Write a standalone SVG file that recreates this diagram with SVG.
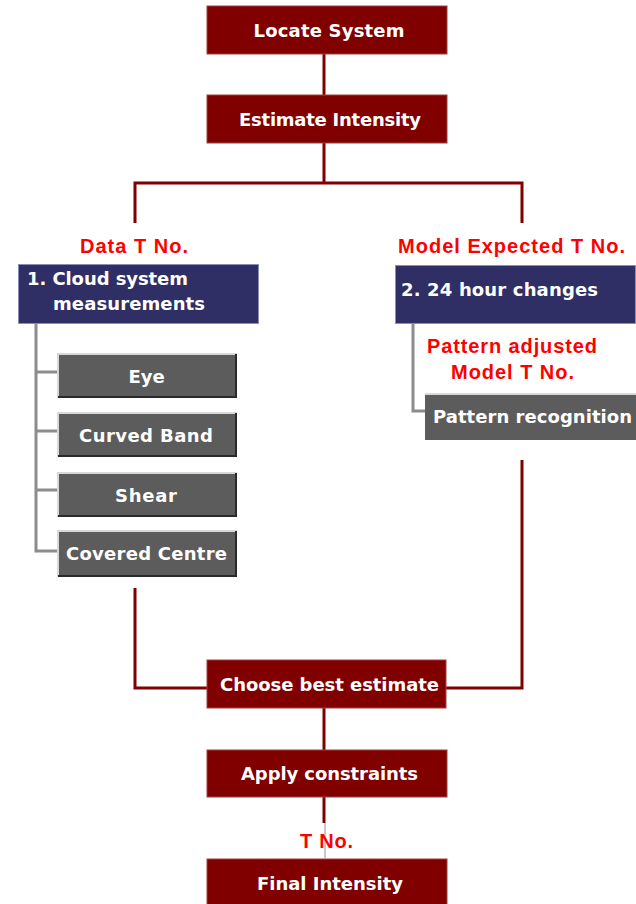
<svg xmlns="http://www.w3.org/2000/svg" width="636" height="904" viewBox="0 0 636 904">
<style>
.red{fill:#800000;stroke:#a04040;stroke-width:1}
.blue{fill:#2f2f66;stroke:#8c8cb8;stroke-width:1}
.gray{fill:#5c5c5c}
.wt{font-family:"DejaVu Sans",sans-serif;font-weight:bold;font-size:18px;fill:#ffffff}
.rt{font-family:"Liberation Sans",Arial,sans-serif;font-weight:bold;font-size:20px;fill:#ff0000;text-anchor:middle}
.c{text-anchor:middle}
.con{fill:none;stroke:#800000;stroke-width:3}
.gcon{fill:none;stroke:#8c8c8c;stroke-width:3}
.hi{stroke:#d8d8d8;stroke-width:2;fill:none}
.sh{stroke:#2a2a2a;stroke-width:2;fill:none}
</style>
<rect width="636" height="904" fill="#ffffff"/>
<g id="connectors">
<path class="con" d="M324 54V95"/>
<path class="con" d="M324 143V183M135 223V183H522V223"/>
<path class="gcon" d="M36 324V551H57M36 372H57M36 431H57M36 490H57"/>
<path class="gcon" d="M413 323V411H425"/>
<path class="con" d="M135 588V688H207M522 460V688H446"/>
<path class="con" d="M324 708V750"/>
<path class="con" d="M324 797V823"/>
<path d="M325 823V858" stroke="#c8c8c8" stroke-width="2" fill="none"/>
</g>
<g id="locate"><rect class="red" x="207" y="6" width="240" height="48"/><text class="wt c" x="329" y="37" textLength="151">Locate System</text></g>
<g id="estimate"><rect class="red" x="207" y="95" width="240" height="48"/><text class="wt c" x="330" y="126" textLength="182">Estimate Intensity</text></g>
<g id="label-data"><text class="rt" x="134" y="253" textLength="108">Data T No.</text></g>
<g id="label-model"><text class="rt" x="511.5" y="253" textLength="227">Model Expected T No.</text></g>
<g id="cloud"><rect class="blue" x="18.5" y="264.5" width="240" height="59"/><text class="wt" x="27" y="285" textLength="161">1. Cloud system</text><text class="wt" x="53" y="310" textLength="152">measurements</text></g>
<g id="changes"><rect class="blue" x="395.5" y="265.5" width="240" height="58"/><text class="wt" x="401" y="296" textLength="197">2. 24 hour changes</text></g>
<g id="label-pattern"><text class="rt" x="512" y="353" textLength="170">Pattern adjusted</text><text class="rt" x="512.5" y="379" textLength="123">Model T No.</text></g>
<g id="pattern"><rect class="gray" x="425" y="393" width="215" height="47"/><path class="hi" d="M425 394H640"/><text class="wt" x="433" y="423" textLength="199">Pattern recognition</text></g>
<g id="eye"><rect class="gray" x="57" y="353" width="180" height="45"/><path class="hi" d="M58 398V354H237"/><path class="sh" d="M58 397H236V354"/><text class="wt c" x="146.5" y="383">Eye</text></g>
<g id="curved"><rect class="gray" x="57" y="412" width="180" height="45"/><path class="hi" d="M58 457V413H237"/><path class="sh" d="M58 456H236V413"/><text class="wt c" x="146" y="442" textLength="134">Curved Band</text></g>
<g id="shear"><rect class="gray" x="57" y="472" width="180" height="45"/><path class="hi" d="M58 517V473H237"/><path class="sh" d="M58 516H236V473"/><text class="wt c" x="146" y="502" textLength="62">Shear</text></g>
<g id="covered"><rect class="gray" x="57" y="530" width="180" height="47"/><path class="hi" d="M58 577V531H237"/><path class="sh" d="M58 576H236V531"/><text class="wt c" x="146.5" y="560" textLength="161">Covered Centre</text></g>
<g id="choose"><rect class="red" x="207" y="660" width="239" height="48"/><text class="wt c" x="329.5" y="691" textLength="219">Choose best estimate</text></g>
<g id="apply"><rect class="red" x="207" y="750" width="240" height="47"/><text class="wt c" x="329.5" y="780" textLength="177">Apply constraints</text></g>
<g id="label-tno"><text class="rt" x="326.5" y="848" textLength="53">T No.</text></g>
<g id="final"><rect class="red" x="207" y="859" width="240" height="50"/><text class="wt c" x="330" y="890" textLength="146">Final Intensity</text></g>
</svg>
